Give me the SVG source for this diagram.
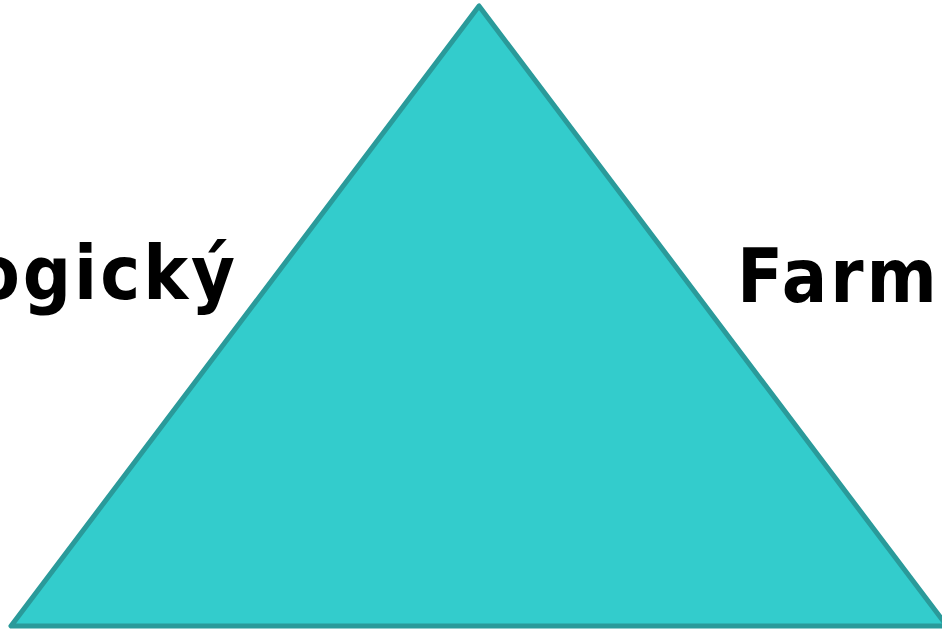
<svg xmlns="http://www.w3.org/2000/svg" width="942" height="631" viewBox="0 0 942 631">
<style>
.lbl{font-family:"DejaVu Sans Condensed","DejaVu Sans",sans-serif;font-weight:bold;font-size:75px;fill:#000;letter-spacing:3px}
.tri{fill:#33cccc;stroke:#2a9a9a;stroke-width:5;stroke-linejoin:round}
</style>
<rect width="942" height="631" fill="#fff"/>
<g id="triangle">
<polygon class="tri" points="479,6 11,626 947,626"/>
</g>
<g id="label-left">
<text class="lbl" x="238" y="299" text-anchor="end">ogický</text>
</g>
<g id="label-right">
<text class="lbl" x="737" y="302">Farm</text>
</g>
</svg>
